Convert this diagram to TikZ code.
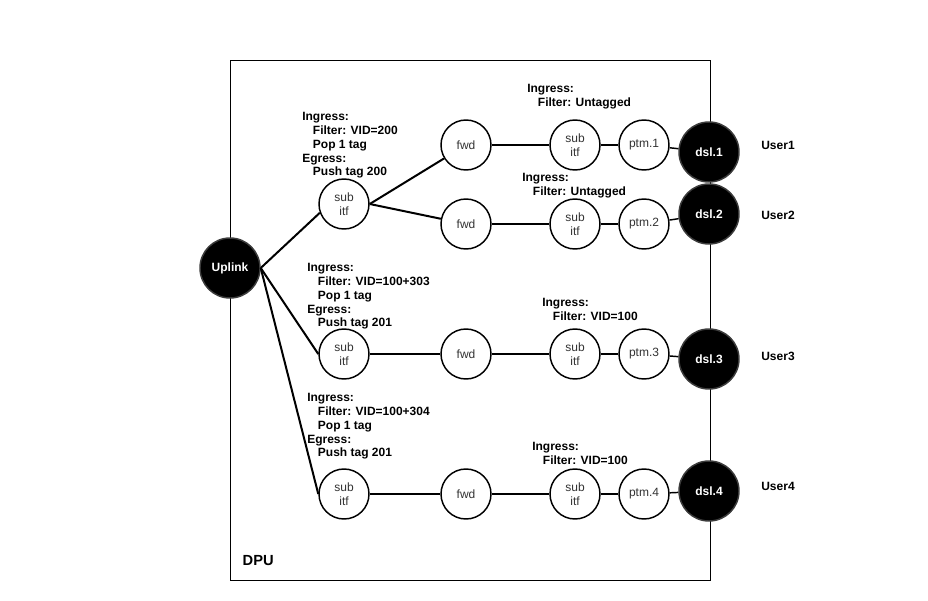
\documentclass[tikz,border=0pt]{standalone}
\usepackage{fontspec}
\setmainfont{Liberation Sans}
\usetikzlibrary{positioning}
\definecolor{itfgray}{RGB}{51,51,51}
\definecolor{portrim}{RGB}{60,60,60}

\tikzset{
  itf/.style={draw, circle, line width=1.1pt, minimum size=37.5pt, inner sep=0pt,
              align=center, text=itfgray, fill=white},
  port/.style={draw=portrim, circle, line width=1.1pt, fill=black, minimum size=45pt,
               inner sep=0pt, text=white, font=\fontsize{9}{10.4}\selectfont\bfseries},
  cfg/.style={anchor=north west, align=left, inner sep=0pt,
              font=\fontsize{9}{10.4}\selectfont\bfseries},
  link/.style={line width=1.5pt},
}

\begin{document}
\begin{tikzpicture}[x=0.75pt, y=-0.75pt, every node/.style={font=\fontsize{9}{10.4}\selectfont}]
        \useasboundingbox (0,0) rectangle (928,600);

        % DPU
        \draw[line width=0.75pt] (230,60) rectangle (710,580);
        \node[anchor=west, font=\fontsize{11}{13}\selectfont\bfseries] (dpu) at (238,561) {DPU};

        % UPLINK
        \node[port] (up) at (230,268) {Uplink};

        % ROW 1 + 2
        \node[itf] (s0) at (344,204) {sub\\itf};
        \node[itf] (f1) at (466,145) {fwd};
        \node[itf] (f2) at (466,224) {fwd};
        \node[itf] (s1) at (575,145) {sub\\itf};
        \node[itf] (s2) at (575,224) {sub\\itf};
        \node[itf] (p1) at (644,145) {ptm.1};
        \node[itf] (p2) at (644,224) {ptm.2};
        \node[port] (d1) at (709,152) {dsl.1};
        \node[port] (d2) at (709,214) {dsl.2};

        % ROW 3
        \node[itf] (s3) at (344,354) {sub\\itf};
        \node[itf] (f3) at (466,354) {fwd};
        \node[itf] (t3) at (575,354) {sub\\itf};
        \node[itf] (p3) at (644,354) {ptm.3};
        \node[port] (d3) at (709,359) {dsl.3};

        % ROW 4
        \node[itf] (s4) at (344,494) {sub\\itf};
        \node[itf] (f4) at (466,494) {fwd};
        \node[itf] (t4) at (575,494) {sub\\itf};
        \node[itf] (p4) at (644,494) {ptm.4};
        \node[port] (d4) at (709,491) {dsl.4};

        % links
        \draw[link] (up.east) -- (s0.200);
        \draw[link] (up.east) -- (s3.west);
        \draw[link] (up.east) -- (s4.west);
        \draw[link] (s0.east) -- (f1);
        \draw[link] (s0.east) -- (f2);
        \draw[link] (f1) -- (s1);
        \draw[link] (f2) -- (s2);
        \draw[link] (s3) -- (f3);
        \draw[link] (f3) -- (t3);
        \draw[link] (s4) -- (f4);
        \draw[link] (f4) -- (t4);
        \draw[link] (s1) -- (p1);
        \draw[link] (s2) -- (p2);
        \draw[link] (t3) -- (p3);
        \draw[link] (t4) -- (p4);
        \draw[line width=1.1pt] (p1) -- (d1);
        \draw[line width=1.1pt] (p2) -- (d2);
        \draw[line width=1.1pt] (p3) -- (d3);
        \draw[line width=1.1pt] (p4) -- (d4);

        % rules
        \node[cfg] (cfg0) at (302,112) {Ingress:\\\hspace*{8pt}Filter: VID=200\\\hspace*{8pt}Pop 1 tag\\Egress:\\\hspace*{8pt}Push tag 200};
        \node[cfg] (cfg3) at (307,263) {Ingress:\\\hspace*{8pt}Filter: VID=100+303\\\hspace*{8pt}Pop 1 tag\\Egress:\\\hspace*{8pt}Push tag 201};
        \node[cfg] (cfg4) at (307,393) {Ingress:\\\hspace*{8pt}Filter: VID=100+304\\\hspace*{8pt}Pop 1 tag\\Egress:\\\hspace*{8pt}Push tag 201};
        \node[cfg] (in1) at (527,84) {Ingress:\\\hspace*{8pt}Filter: Untagged};
        \node[cfg] (in2) at (522,173) {Ingress:\\\hspace*{8pt}Filter: Untagged};
        \node[cfg] (in3) at (542,298) {Ingress:\\\hspace*{8pt}Filter: VID=100};
        \node[cfg] (in4) at (532,442) {Ingress:\\\hspace*{8pt}Filter: VID=100};

        % users
        \node[font=\fontsize{9}{10.4}\selectfont\bfseries] (u1) at (778,145) {User1};
        \node[font=\fontsize{9}{10.4}\selectfont\bfseries] (u2) at (778,215) {User2};
        \node[font=\fontsize{9}{10.4}\selectfont\bfseries] (u3) at (778,356) {User3};
        \node[font=\fontsize{9}{10.4}\selectfont\bfseries] (u4) at (778,486) {User4};
\end{tikzpicture}
\end{document}
